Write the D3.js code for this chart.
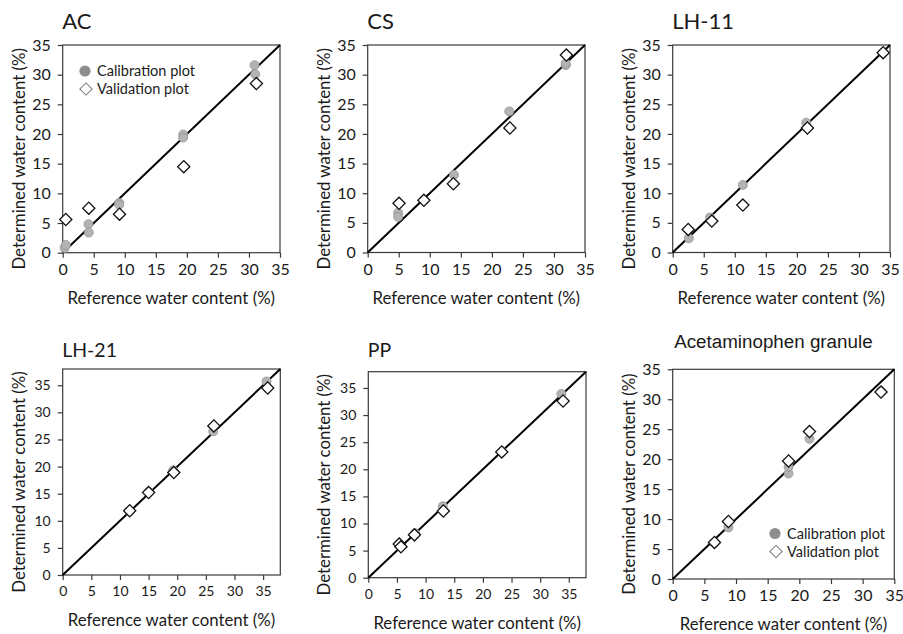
<!DOCTYPE html>
<html>
<head>
<meta charset="utf-8">
<script src="https://cdn.jsdelivr.net/npm/d3@7"></script>
<style>
  body { margin: 0; background: #fff; }
  text { font-family: "Lato", "Open Sans", sans-serif; fill: #1a1a1a; }
</style>
</head>
<body>
<div class="chart"></div>
<script>
var svgWidth = 903;
var svgHeight = 634;

// Each point is [reference water content, determined water content] (%)
var acCal = [[0.3, 0.8], [0.5, 1.3], [4.15, 4.8], [4.2, 3.4], [9.1, 8.4], [9.1, 8.1], [19.4, 19.9], [19.4, 19.4], [30.9, 31.6], [31.0, 30.1]];
var acVal = [[0.5, 5.6], [4.2, 7.5], [9.15, 6.5], [19.5, 14.5], [31.2, 28.5]];

var csCal = [[4.9, 6.7], [4.9, 6.0], [9.1, 8.8], [13.9, 13.1], [22.8, 23.8], [31.9, 31.6], [31.9, 31.9]];
var csVal = [[5.05, 8.3], [9.05, 8.8], [13.8, 11.6], [22.9, 21.0], [32.0, 33.3]];

var lh11Cal = [[2.6, 2.4], [6.0, 5.9], [11.3, 11.4], [21.5, 21.9], [33.9, 33.7]];
var lh11Val = [[2.5, 3.9], [6.3, 5.3], [11.3, 8.0], [21.7, 21.0], [33.9, 33.7]];

var lh21Cal = [[11.6, 11.8], [15.0, 15.3], [19.3, 19.3], [26.3, 26.5], [35.6, 35.7]];
var lh21Val = [[11.7, 11.85], [15.0, 15.2], [19.4, 18.9], [26.4, 27.5], [35.8, 34.5]];

var ppCal = [[5.4, 6.0], [8.2, 8.2], [13.0, 13.2], [23.3, 23.3], [33.7, 33.9]];
var ppVal = [[5.4, 6.2], [5.7, 5.7], [8.05, 7.9], [13.1, 12.3], [23.3, 23.2], [34.0, 32.6]];

var agCal = [[6.6, 6.1], [8.8, 8.6], [18.3, 17.6], [18.3, 18.7], [21.6, 23.4], [32.9, 31.3]];
var agVal = [[6.6, 6.1], [8.8, 9.6], [18.3, 19.7], [21.6, 24.6], [32.9, 31.2]];

var tickValues = [0, 5, 10, 15, 20, 25, 30, 35];
var titles = ["AC", "CS", "LH-11", "LH-21", "PP", "Acetaminophen granule"];
var legendLabels = ["Calibration plot", "Validation plot"];
var xLabel = "Reference water content (%)";
var yLabel = "Determined water content (%)";

// Layout of the six panels: plot box [left, top, right, bottom]
var panels = [
  { title: titles[0], cal: acCal, val: acVal, max: 35, box: [62.7, 45, 280, 252.7], tick: 16, titleSize: 22, titleY: 29, legend: [85, 71] },
  { title: titles[1], cal: csCal, val: csVal, max: 35, box: [367.7, 45, 585, 252.5], tick: 16, titleSize: 22, titleY: 29 },
  { title: titles[2], cal: lh11Cal, val: lh11Val, max: 35, box: [672.7, 45, 890, 252.5], tick: 16, titleSize: 22, titleY: 29 },
  { title: titles[3], cal: lh21Cal, val: lh21Val, max: 38, box: [62.7, 369, 280.3, 575], tick: 14, titleSize: 19.5, titleY: 357 },
  { title: titles[4], cal: ppCal, val: ppVal, max: 38, box: [368.3, 371.7, 586, 577.7], tick: 14, titleSize: 19.5, titleY: 357 },
  { title: titles[5], cal: agCal, val: agVal, max: 35, box: [672.7, 369.3, 894.3, 579], tick: 16, titleSize: 18.8, titleY: 348, arial: true, legend: [775, 533.5] }
];

var svg = d3.select(".chart")
  .append("svg")
  .attr("width", svgWidth)
  .attr("height", svgHeight);

var diamond = d3.symbol().type(d3.symbolSquare).size(74);
var legendDiamond = d3.symbol().type(d3.symbolSquare).size(76);

panels.forEach(function(p) {
  var left = p.box[0], top = p.box[1], right = p.box[2], bottom = p.box[3];

  var x = d3.scaleLinear().domain([0, p.max]).range([left, right]);
  var y = d3.scaleLinear().domain([0, p.max]).range([bottom, top]);

  var g = svg.append("g");

  // plot frame
  g.append("rect")
    .attr("x", left).attr("y", top)
    .attr("width", right - left).attr("height", bottom - top)
    .attr("fill", "none")
    .attr("stroke", "#3a3a3a")
    .attr("stroke-width", 1.2);

  var bottomAxis = d3.axisBottom(x).tickValues(tickValues).tickSize(5).tickPadding(6);
  var leftAxis = d3.axisLeft(y).tickValues(tickValues).tickSize(5).tickPadding(7);

  var xa = g.append("g")
    .attr("transform", "translate(0," + bottom + ")")
    .call(bottomAxis);
  var ya = g.append("g")
    .attr("transform", "translate(" + left + ",0)")
    .call(leftAxis);

  [xa, ya].forEach(function(a) {
    a.select(".domain").remove();
    a.selectAll("line").attr("stroke", "#3a3a3a").attr("stroke-width", 1.2);
    a.selectAll("text")
      .attr("fill", "#1a1a1a")
      .style("font-family", "Lato, sans-serif")
      .style("font-size", p.tick + "px");
  });

  // 1:1 line
  g.append("line")
    .attr("x1", x(0)).attr("y1", y(0))
    .attr("x2", x(p.max)).attr("y2", y(p.max))
    .attr("stroke", "#000")
    .attr("stroke-width", 2);

  // calibration points
  g.selectAll(".cal")
    .data(p.cal)
    .enter().append("circle")
    .attr("cx", function(d) { return x(d[0]); })
    .attr("cy", function(d) { return y(d[1]); })
    .attr("r", 4.5)
    .attr("fill", "#b3b3b3")
    .attr("stroke", "#949494")
    .attr("stroke-width", 0.8);

  // validation points
  g.selectAll(".val")
    .data(p.val)
    .enter().append("path")
    .attr("d", diamond)
    .attr("transform", function(d) {
      return "translate(" + x(d[0]) + "," + y(d[1]) + ") rotate(45)";
    })
    .attr("fill", "#fff")
    .attr("stroke", "#111")
    .attr("stroke-width", 1.3);

  // titles
  g.append("text")
    .attr("x", p.arial ? left + 1.5 : left - 0.5)
    .attr("y", p.titleY)
    .style("font-family", p.arial ? "'Liberation Sans', Arial, sans-serif" : "Lato, sans-serif")
    .style("font-size", p.titleSize + "px")
    .text(p.title);

  // axis labels
  g.append("text")
    .attr("x", (left + right) / 2)
    .attr("y", bottom + 51)
    .attr("text-anchor", "middle")
    .style("font-size", "16.8px")
    .text(xLabel);

  g.append("text")
    .attr("transform", "translate(" + (left - 38) + "," + ((top + bottom) / 2 + 10) + ") rotate(-90)")
    .attr("text-anchor", "middle")
    .style("font-size", "16.8px")
    .text(yLabel);

  if (p.legend) {
    var lx = p.legend[0], ly = p.legend[1];
    g.append("circle")
      .attr("cx", lx).attr("cy", ly).attr("r", 5.6)
      .attr("fill", "#8e8e8e");
    g.append("text")
      .attr("x", lx + 12).attr("y", ly + 5)
      .style("font-size", "14.5px")
      .text(legendLabels[0]);
    g.append("path")
      .attr("d", legendDiamond)
      .attr("transform", "translate(" + (lx + 1) + "," + (ly + 18) + ") rotate(45)")
      .attr("fill", "#fff")
      .attr("stroke", "#777")
      .attr("stroke-width", 1);
    g.append("text")
      .attr("x", lx + 12).attr("y", ly + 23)
      .style("font-size", "14.5px")
      .text(legendLabels[1]);
  }
});
</script>
</body>
</html>
